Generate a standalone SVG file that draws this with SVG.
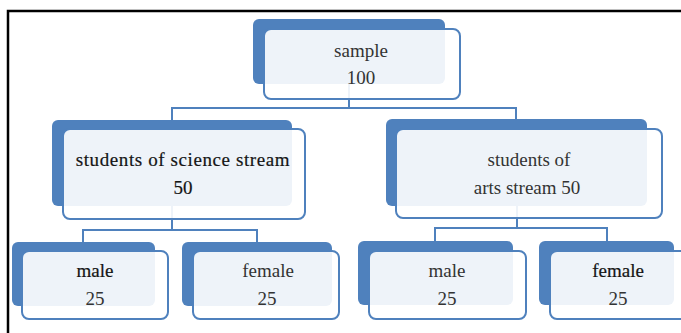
<svg xmlns="http://www.w3.org/2000/svg" width="681" height="333" viewBox="0 0 681 333">
  <style>
    .back { fill: #4f81bd; }
    .front { fill: #ffffff; fill-opacity: 0.9; stroke: #4f81bd; stroke-width: 2; }
    .conn { fill: none; stroke: #4f81bd; stroke-width: 2; }
    .frame { fill: none; stroke: #000; stroke-width: 2.5; }
    text { font-family: "Liberation Serif", "Times New Roman", serif; font-size: 19px; fill: #333333; text-anchor: middle; }
    .dark { fill: #151515; stroke: #151515; stroke-width: 0.2; }
  </style>
  <rect width="681" height="333" fill="#ffffff"/>
  <!-- page frame: top and left rules -->
  <path class="frame" d="M8 333 V11 H681"/>

  <g id="connectors">
    <path class="conn" d="M349 84 V108 M172 108 H516 M172 107 V120 M516 107 V120"/>
    <path class="conn" d="M172 206 V230 M83 230 H257 M83 229 V242 M257 229 V242"/>
    <path class="conn" d="M517 206 V228 M435 228 H607 M435 227 V241 M607 227 V241"/>
  </g>

  <g id="sample">
    <rect class="back" x="253" y="19" width="192" height="65" rx="6"/>
    <rect class="front" x="264" y="29" width="196" height="70" rx="7"/>
    <text x="361" y="57">sample</text>
    <text x="361" y="84">100</text>
  </g>

  <g id="science">
    <rect class="back" x="52" y="120" width="240" height="86" rx="6"/>
    <rect class="front" x="63" y="129" width="242" height="90" rx="7"/>
    <text class="dark" x="183" y="166" letter-spacing="0.6">students of science stream</text>
    <text class="dark" x="183" y="194">50</text>
  </g>

  <g id="arts">
    <rect class="back" x="386" y="119" width="261" height="87" rx="6"/>
    <rect class="front" x="396" y="129" width="266" height="89" rx="7"/>
    <text x="529" y="166">students of</text>
    <text x="527" y="194">arts stream 50</text>
  </g>

  <g id="science-male">
    <rect class="back" x="12" y="242" width="143" height="64" rx="6"/>
    <rect class="front" x="22" y="251" width="146" height="68" rx="7"/>
    <text class="dark" x="95" y="277">male</text>
    <text x="95" y="305">25</text>
  </g>

  <g id="science-female">
    <rect class="back" x="182" y="242" width="150" height="64" rx="6"/>
    <rect class="front" x="193" y="251" width="146" height="68" rx="7"/>
    <text x="268" y="277">female</text>
    <text x="267" y="305">25</text>
  </g>

  <g id="arts-male">
    <rect class="back" x="358" y="241" width="155" height="64" rx="6"/>
    <rect class="front" x="369" y="251" width="157" height="68" rx="7"/>
    <text x="447" y="277">male</text>
    <text x="447" y="305">25</text>
  </g>

  <g id="arts-female">
    <rect class="back" x="539" y="241" width="135" height="64" rx="6"/>
    <rect class="front" x="550" y="251" width="140" height="68" rx="7"/>
    <text class="dark" x="618" y="277">female</text>
    <text x="618" y="305">25</text>
  </g>
</svg>
